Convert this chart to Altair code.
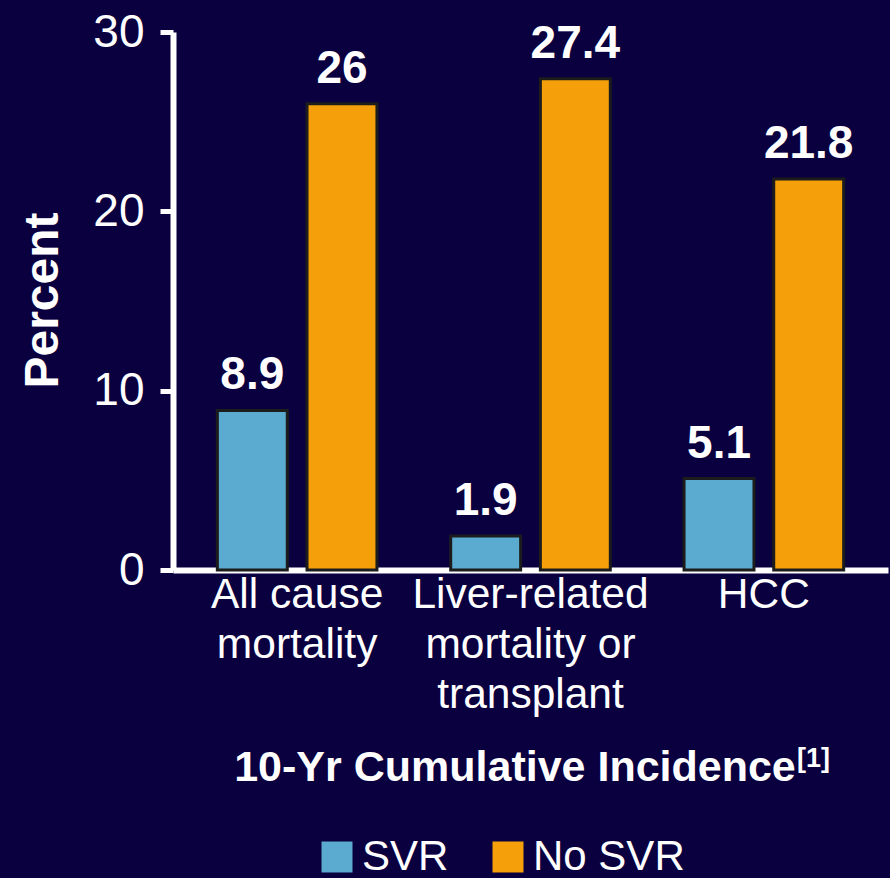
import altair as alt
import pandas as pd

categories = ["All cause mortality", "Liver-related mortality or transplant", "HCC"]
series = ["SVR", "No SVR"]
svr_values = [8.9, 1.9, 5.1]
no_svr_values = [26, 27.4, 21.8]
y_ticks = [0, 10, 20, 30]
colors = ["#5aabcf", "#f5a00b"]

rows = []
for c, v in zip(categories, svr_values):
    rows.append({"category": c, "series": "SVR", "value": v})
for c, v in zip(categories, no_svr_values):
    rows.append({"category": c, "series": "No SVR", "value": v})
df = pd.DataFrame(rows)

label_expr = (
    "datum.value == 'All cause mortality' ? ['All cause', 'mortality'] : "
    "datum.value == 'Liver-related mortality or transplant' ? ['Liver-related', 'mortality or', 'transplant'] : "
    "datum.value"
)

FONT = "Liberation Sans"
W, H = 715, 538

x_enc = alt.X(
    "category:N",
    sort=categories,
    scale=alt.Scale(paddingInner=0.316, paddingOuter=0.19),
    axis=alt.Axis(
        title=None,
        labelExpr=label_expr,
        labelAngle=0,
        labelFont=FONT,
        labelFontSize=42.5,
        labelColor="white",
        labelLineHeight=50,
        labelPadding=3,
        labelLimit=0,
        ticks=False,
        tickSize=0,
        domainColor="white",
        domainWidth=6,
        labelBaseline="top",
    ),
)
xoff = alt.XOffset("series:N", sort=series, scale=alt.Scale(paddingInner=0.22))
y_enc = alt.Y(
    "value:Q",
    scale=alt.Scale(domain=[0, 30], nice=False),
    axis=alt.Axis(
        values=y_ticks,
        title="Percent",
        titleFont=FONT,
        titleFontSize=48,
        titleFontWeight="bold",
        titleColor="white",
        titleAngle=-90,
        titleX=-116,
        titleY=268,
        titleAlign="center",
        titleBaseline="alphabetic",
        labelFont=FONT,
        labelFontSize=46,
        labelColor="white",
        labelPadding=16,
        tickSize=13,
        tickWidth=5,
        tickColor="white",
        domainColor="white",
        domainWidth=6,
        grid=False,
    ),
)

base = alt.Chart(df)

bars = base.mark_bar(stroke="#1c1c1c", strokeWidth=3).encode(
    x=x_enc,
    xOffset=xoff,
    y=y_enc,
    color=alt.Color(
        "series:N",
        sort=series,
        scale=alt.Scale(domain=series, range=colors),
        legend=alt.Legend(
            title=None,
            orient="none",
            legendX=143,
            legendY=804,
            direction="horizontal",
            symbolType="square",
            symbolSize=961,
            symbolStrokeWidth=0,
            symbolOpacity=1,
            labelFont=FONT,
            labelFontSize=42,
            labelColor="white",
            labelOffset=4,
            labelLimit=0,
            columnPadding=38,
            padding=0,
        ),
    ),
)

labels = base.mark_text(
    font=FONT, fontSize=46, fontWeight="bold", color="white",
    baseline="alphabetic", dy=-21,
).encode(
    x=alt.X("category:N", sort=categories),
    xOffset=alt.XOffset("series:N", sort=series),
    y="value:Q",
    text=alt.Text("value:Q", format="~g"),
)

title_df = pd.DataFrame({"t": ["10-Yr Cumulative Incidence"]})
sup_df = pd.DataFrame({"t": ["[1]"]})

xtitle = alt.Chart(title_df).mark_text(
    font=FONT, fontSize=43, fontWeight="bold", color="white",
    align="center", baseline="alphabetic",
).encode(x=alt.value(342), y=alt.value(749), text="t:N")

sup = alt.Chart(sup_df).mark_text(
    font=FONT, fontSize=27, fontWeight="bold", color="white",
    align="left", baseline="alphabetic",
).encode(x=alt.value(624), y=alt.value(735), text="t:N")

chart = alt.layer(bars, labels, xtitle, sup).properties(
    width=W,
    height=H,
    background="#0a003f",
    padding={"left": 173, "top": 32, "right": 2, "bottom": 308},
    autosize=alt.AutoSizeParams(type="none"),
).configure_view(stroke=None)

chart.save("out.html", embed_options={"renderer": "svg", "actions": False})
